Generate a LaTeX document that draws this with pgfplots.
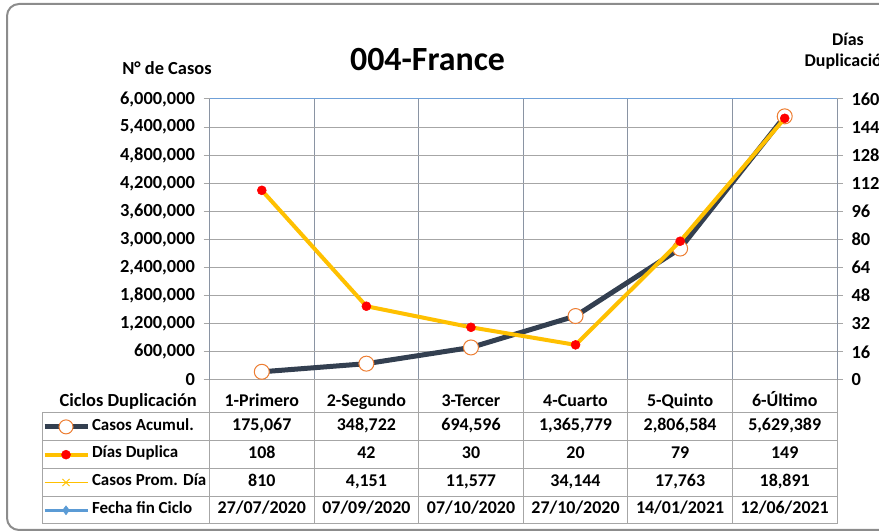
\documentclass[border=0pt]{standalone}
\usepackage{fontspec}
\setmainfont{Carlito}
\usepackage{pgfplots}
\pgfplotsset{compat=1.18}
\definecolor{casos}{HTML}{333F50}
\definecolor{dias}{HTML}{FFC000}
\definecolor{mk}{HTML}{ED7D31}
\definecolor{fecha}{HTML}{5B9BD5}
\definecolor{gridc}{HTML}{A6A6A6}
\definecolor{vgrid}{HTML}{8A94A3}
\definecolor{framec}{HTML}{8C8C8C}
\definecolor{topc}{HTML}{6FA0D8}
\newcommand{\tf}{\bfseries\fontsize{18.5}{22}\selectfont}
\newcommand{\tb}{\bfseries\fontsize{18}{21}\selectfont}
\newcommand{\tl}{\bfseries\fontsize{17}{20}\selectfont}
\pgfplotsset{mylegimg/.style={legend image code/.code={\draw[##1, mark=none] (0bp,0bp) -- (43bp,0bp); \draw[##1] plot coordinates {(21.5bp,0bp)};}}}
\begin{document}
\begin{tikzpicture}[x=1bp,y=1bp]
\useasboundingbox (0,0) rectangle (879,531);
\draw[framec, line width=2bp, rounded corners=12bp] (7,527) rectangle (920,1);
\node[font=\bfseries\fontsize{34}{40}\selectfont] at (427.5,471) {004-France};
\node[font=\tf] at (167,463) {N° de Casos};
\node[font=\tb, align=center] at (848,480) {Días\\Duplicación};

\begin{axis}[at={(209.5bp,151bp)}, anchor=south west, scale only axis,
  width=627.5bp, height=281bp, xmin=-0.5, xmax=5.5, ymin=0, ymax=6000000,
  axis x line*=bottom, axis y line*=left,
  axis line style={vgrid, line width=1bp},
  x axis line style={gridc},
  ytick={0,600000,1200000,1800000,2400000,3000000,3600000,4200000,4800000,5400000,6000000},
  scaled y ticks=false,
  yticklabel style={xshift=-5bp, /pgf/number format/.cd, fixed, 1000 sep={,}, assume math mode=true},
  ticklabel style={font=\tf},
  tick align=outside, major tick length=6bp,
  ytick style={gridc, line width=1bp},
  ymajorgrids, grid style={gridc, line width=1bp},
  xtick={0,1,2,3,4,5},
  xticklabels={1-Primero,2-Segundo,3-Tercer,4-Cuarto,5-Quinto,6-Último},
  xtick style={draw=none},
  xticklabel style={anchor=center, yshift=-17bp, text height=0.64em, text depth=0pt, font=\tb},
  minor xtick={-0.5,0.5,1.5,2.5,3.5,4.5,5.5},
  xminorgrids, minor grid style={vgrid, line width=1bp},
  clip=false,
  legend cell align=left,
  legend style={at={(-0.2669,-0.1174)}, anchor=north west, draw=none, fill=none,
    inner sep=0pt, outer sep=0pt, row sep=0pt, column sep=2bp,
    nodes={inner sep=0pt, minimum height=27.8bp, text height=0.64em, text depth=0pt, font=\tl}},
]
\addlegendimage{casos, line width=5bp, mark=*, mark size=7bp, mark options={fill=white, draw=mk, line width=1bp}, mylegimg}
\addlegendentry{Casos Acumul.}
\addlegendimage{dias, line width=4bp, mark=*, mark size=4.5bp, mark options={fill=red, draw=red, line width=0.5bp}, mylegimg}
\addlegendentry{Días Duplica}
\addlegendimage{dias, line width=1.5bp, mark=x, mark size=5bp, mark options={dias, line width=1bp}, mylegimg}
\addlegendentry{Casos Prom. Día}
\addlegendimage{fecha, line width=2.5bp, mark=diamond*, mark size=4.5bp, mark options={fill=fecha, draw=fecha, line width=0.5bp}, mylegimg}
\addlegendentry{Fecha fin Ciclo}
\addplot[casos, line width=5bp, line join=round, mark=*, mark size=7.5bp,
  mark options={fill=white, draw=mk, line width=1bp}, forget plot]
  coordinates {(0,175067)(1,348722)(2,694596)(3,1365779)(4,2806584)(5,5629389)};
\draw[topc, line width=1bp] (rel axis cs:0,1) -- (rel axis cs:1,1);
\end{axis}

\begin{axis}[at={(209.5bp,151bp)}, anchor=south west, scale only axis,
  width=627.5bp, height=281bp, xmin=-0.5, xmax=5.5, ymin=0, ymax=160,
  axis x line=none, axis y line*=right,
  axis line style={vgrid, line width=1bp},
  ytick={0,16,32,48,64,80,96,112,128,144,160},
  yticklabel style={xshift=5bp, /pgf/number format/assume math mode=true},
  ticklabel style={font=\tf},
  tick align=outside, major tick length=6bp,
  ytick style={gridc, line width=1bp},
  clip=false,
]
\addplot[dias, line width=4bp, line join=round, mark=*, mark size=4.5bp,
  mark options={fill=red, draw=red, line width=0.5bp}]
  coordinates {(0,108)(1,42)(2,30)(3,20)(4,79)(5,149)};
\end{axis}

% data table grid
\foreach \x in {209.5,314.1,418.7,523.2,627.8,732.4,837} {\draw[gridc, line width=1bp] (\x,151) -- (\x,7);}
\draw[gridc, line width=1bp] (42,118) -- (42,7);
\foreach \y in {118,90,62,34,7} {\draw[gridc, line width=1bp] (42,\y) -- (837,\y);}
\node[font=\tf, anchor=east, inner sep=0pt, text height=0.64em, text depth=0pt] at (197,128) {Ciclos Duplicación};

\begin{scope}[every node/.style={font=\tb, anchor=center, inner sep=0pt, text height=0.64em, text depth=0pt}]
\foreach \x/\a/\b/\c/\d in {
  261.8/175{,}067/108/810/27\slash07\slash2020,
  366.4/348{,}722/42/4{,}151/07\slash09\slash2020,
  471.0/694{,}596/30/11{,}577/07\slash10\slash2020,
  575.5/1{,}365{,}779/20/34{,}144/27\slash10\slash2020,
  680.1/2{,}806{,}584/79/17{,}763/14\slash01\slash2021,
  784.7/5{,}629{,}389/149/18{,}891/12\slash06\slash2021} {
  \node at (\x,104) {\a};
  \node at (\x,76) {\b};
  \node at (\x,48) {\c};
  \node at (\x,20.5) {\d};
}
\end{scope}
\end{tikzpicture}
\end{document}
